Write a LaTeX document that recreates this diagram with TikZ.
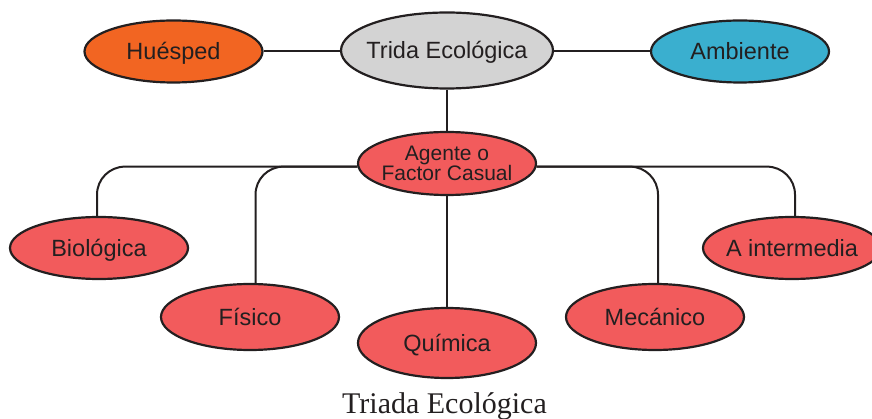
\documentclass[tikz,border=0pt]{standalone}
\usepackage{fontspec}
\setsansfont{Liberation Sans}
\newfontfamily\captionserif{Liberation Serif}
\usetikzlibrary{shapes.geometric}
\definecolor{Host_orange}{HTML}{F26522}
\definecolor{Triad_gray}{HTML}{D3D3D3}
\definecolor{Env_blue}{HTML}{3AAFCF}
\definecolor{Agent_red}{HTML}{F25B5C}
\definecolor{Line_black}{HTML}{231F20}
\tikzset{
  every picture/.style={/utils/exec={\sffamily}},
  blob/.style={ellipse, draw=Line_black, line width=2.2pt, text=Line_black,
    inner xsep=-20pt, inner ysep=0pt, minimum width=178pt, minimum height=62pt,
    text height=16.8pt, text depth=0pt, font=\fontsize{23.5}{26}\selectfont},
  link/.style={draw=Line_black, line width=2pt},
  elbow/.style={link, rounded corners=28pt}
}

\begin{document}
\begin{tikzpicture}[x=1pt, y=-1pt]
        \useasboundingbox (0,0) rectangle (872,419);
        \node[blob, fill=Host_orange] (huesped) at (173.5,51.5) {Huésped};
        \node[blob, fill=Triad_gray, minimum width=212pt, minimum height=76pt] (trida) at (447,50.5) {Trida Ecológica};
        \node[blob, fill=Env_blue] (ambiente) at (740,51.5) {Ambiente};
        \node[blob, fill=Agent_red, align=center, text height=, text depth=, minimum height=63pt,
          font=\fontsize{21}{20}\selectfont] (agente) at (447,163.5) {Agente o\\Factor Casual};
        \node[blob, fill=Agent_red] (bio) at (99,248) {Biológica};
        \node[blob, fill=Agent_red, minimum height=66pt] (fisico) at (250,317) {Físico};
        \node[blob, fill=Agent_red, minimum height=70pt] (quimica) at (447,343) {Química};
        \node[blob, fill=Agent_red, minimum height=66pt] (mecanico) at (655,317) {Mecánico};
        \node[blob, fill=Agent_red] (intermedia) at (792,248) {A intermedia};
        \node[font=\captionserif\fontsize{30}{36}\selectfont, text=Line_black, anchor=base] (caption) at (444.5,413) {Triada Ecológica};

        \draw[link] (huesped.east) -- (huesped.east -| trida.west);
        \draw[link] (ambiente.west) -- (ambiente.west -| trida.east);
        \draw[link] (trida.south) -- (agente.north);
        \draw[link] (agente.south) -- (quimica.north);
        \draw[elbow] (agente.182) -| ([xshift=-2pt]bio.north);
        \draw[elbow] (agente.182) -| ([xshift=5.5pt]fisico.north);
        \draw[elbow] (agente.-2) -| ([xshift=3pt]mecanico.north);
        \draw[elbow] (agente.-2) -| ([xshift=3pt]intermedia.north);
    \end{tikzpicture}
\end{document}
